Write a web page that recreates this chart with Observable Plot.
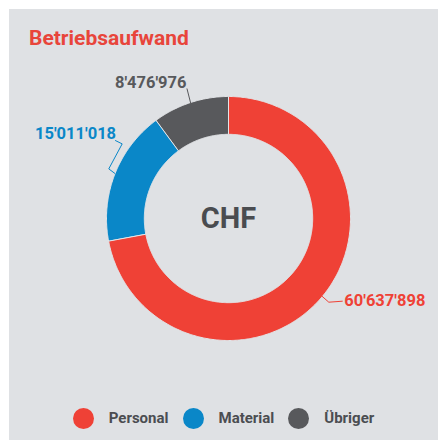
<!DOCTYPE html>
<html><head><meta charset="utf-8">
<script src="https://cdn.jsdelivr.net/npm/d3@7"></script>
<script src="https://cdn.jsdelivr.net/npm/@observablehq/plot@0.6"></script>
<style>
html,body{margin:0;padding:0;background:#fff;width:438px;height:440px;overflow:hidden;font-family:Roboto,"Noto Sans",sans-serif}
#panel{position:absolute;left:9px;top:9px;width:429px;height:431px;background:#dfe1e4}
#chart{position:absolute;left:0;top:0}
#title{position:absolute;left:29px;top:24px;font-weight:bold;font-size:21px;color:#e8453b;line-height:28px;white-space:nowrap}
#legend{position:absolute;left:9px;width:429px;top:407px;height:22px;display:flex;justify-content:center;align-items:center;gap:14px}
.item{display:flex;align-items:center;gap:15px;font-weight:bold;font-size:15px;color:#4b4d51}
.dot{width:21px;height:21px;border-radius:50%}
</style></head>
<body>
<div id="panel"></div>
<div id="chart"></div>
<div id="title"></div>
<div id="legend"></div>
<script>
const title = "Betriebsaufwand";
const centerLabel = "CHF";
const categories = ["Personal", "Material", "Übriger"];
const values = [60637898, 15011018, 8476976];
const colors = ["#ef4136", "#0a87c8", "#58595c"];

// layout (pixels)
const cx = 228, cy = 218, R = 122, innerRatio = 0.69;
// per-slice label layout, pixel offsets from the slice's outer mid-arc point
const labelLayout = [
  {anchor: "start", label: [22, 4],    path: [[6.5, 5.7], [20, 4.7]]},
  {anchor: "end",   label: [1, -39.5], path: [[-6.3, -4.7], [7.1, -29.7], [0.4, -33]]},
  {anchor: "end",   label: [-4, -19.5], path: [[-3.5, -13.7]]}
];

const fmt = d3.formatLocale({thousands: "'", grouping: [3], decimal: ".", currency: ["", ""]}).format(",");

document.getElementById("title").textContent = title;
const leg = document.getElementById("legend");
categories.forEach((c, i) => {
  const it = document.createElement("div"); it.className = "item";
  const dot = document.createElement("div"); dot.className = "dot"; dot.style.background = colors[i];
  const t = document.createElement("span"); t.textContent = c;
  it.append(dot, t); leg.append(it);
});

const data = categories.map((c, i) => ({category: c, value: values[i]}));
const arcs = d3.pie().sort(null).value(d => d.value)(data);

const ring = [];
const connectors = [];
const labels = [];
arcs.forEach((p, i) => {
  const c = p.data.category;
  const n = Math.max(2, Math.ceil((p.endAngle - p.startAngle) / 0.01));
  for (let k = 0; k <= n; k++) {
    const a = p.startAngle + (p.endAngle - p.startAngle) * k / n;
    ring.push({category: c, x: Math.sin(a), y: Math.cos(a)});
  }
  for (let k = n; k >= 0; k--) {
    const a = p.startAngle + (p.endAngle - p.startAngle) * k / n;
    ring.push({category: c, x: innerRatio * Math.sin(a), y: innerRatio * Math.cos(a)});
  }
  const m = (p.startAngle + p.endAngle) / 2;
  const ax = Math.sin(m), ay = Math.cos(m);
  const L = labelLayout[i];
  connectors.push({category: c, x: ax, y: ay});
  L.path.forEach(([dx, dy]) => connectors.push({category: c, x: ax + dx / R, y: ay - dy / R}));
  labels.push({category: c, anchor: L.anchor, text: fmt(p.data.value), x: ax + L.label[0] / R, y: ay - L.label[1] / R});
});

const chart = Plot.plot({
  width: 438, height: 440, margin: 0,
  style: {background: "transparent", overflow: "visible", fontFamily: "Roboto, sans-serif"},
  x: {domain: [-1, 1], range: [cx - R, cx + R], axis: null},
  y: {domain: [-1, 1], range: [cy + R, cy - R], axis: null},
  color: {domain: categories, range: colors},
  marks: [
    Plot.line(ring, {x: "x", y: "y", z: "category", fill: "category", stroke: "#e3e5e8", strokeWidth: 1, curve: "linear-closed"}),
    Plot.line(connectors, {x: "x", y: "y", z: "category", stroke: "category", strokeWidth: 1}),
    Plot.text(labels.filter(d => d.anchor === "start"), {x: "x", y: "y", text: "text", fill: "category", textAnchor: "start", lineAnchor: "middle", fontSize: 16.5, fontWeight: "bold"}),
    Plot.text(labels.filter(d => d.anchor === "end"), {x: "x", y: "y", text: "text", fill: "category", textAnchor: "end", lineAnchor: "middle", fontSize: 16.5, fontWeight: "bold"}),
    Plot.text([centerLabel], {x: () => 0, y: () => 0, text: d => d, fill: "#4a4c50", fontSize: 29, fontWeight: "bold", lineAnchor: "middle"})
  ]
});
document.getElementById("chart").append(chart);
</script>
</body></html>
